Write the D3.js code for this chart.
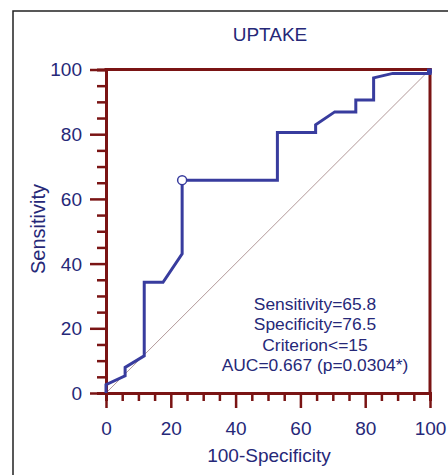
<!DOCTYPE html>
<html>
<head>
<meta charset="utf-8">
<script src="https://cdn.jsdelivr.net/npm/d3@7"></script>
<style>
  html, body { margin: 0; padding: 0; background: #fff; }
  svg { display: block; }
  text { font-family: "Liberation Sans", Arial, sans-serif; }
</style>
</head>
<body>
<svg id="chart" width="448" height="475"></svg>
<script>
// ---- data ----
const title = "UPTAKE";
const xLabel = "100-Specificity";
const yLabel = "Sensitivity";
const fpr = [0, 0, 5.9, 5.9, 11.8, 11.8, 17.6, 23.5, 23.5, 52.9, 52.9, 64.7, 64.7, 70.6, 77.1, 77.1, 82.6, 82.6, 88.5, 100, 100];
const tpr = [0, 2.6, 5.3, 7.9, 11.5, 34.2, 34.2, 43.0, 65.8, 65.8, 80.5, 80.5, 82.9, 86.9, 86.9, 90.6, 90.6, 97.4, 98.8, 98.8, 100];
const criterionPoint = [23.5, 65.8];
const majorTicks = [0, 20, 40, 60, 80, 100];
const minorTicks = [5, 10, 15, 25, 30, 35, 45, 50, 55, 65, 70, 75, 85, 90, 95];
const stats = ["Sensitivity=65.8", "Specificity=76.5", "Criterion<=15", "AUC=0.667 (p=0.0304*)"];

// ---- styles ----
const axisColor = "#7a1414";
const textColor = "#262878";
const curveColor = "#383c9e";
const diagColor = "#b39a9a";

const svg = d3.select("#chart");
svg.append("rect").attr("width", 448).attr("height", 475).attr("fill", "#fff");

// outer frame
svg.append("rect")
  .attr("x", 13).attr("y", 11).attr("width", 480).attr("height", 500)
  .attr("fill", "none").attr("stroke", "#222").attr("stroke-width", 1.5);

const x = d3.scaleLinear().domain([0, 100]).range([106, 430]);
const y = d3.scaleLinear().domain([0, 100]).range([393, 69.5]);

// diagonal reference
svg.append("line")
  .attr("x1", x(0)).attr("y1", y(0)).attr("x2", x(100)).attr("y2", y(100))
  .attr("stroke", diagColor).attr("stroke-width", 1);

// minor ticks
const yMinor = svg.append("g").attr("transform", `translate(${x(0)},0)`)
  .call(d3.axisLeft(y).tickValues(minorTicks).tickSize(9).tickFormat(""));
const xMinor = svg.append("g").attr("transform", `translate(0,${y(0)})`)
  .call(d3.axisBottom(x).tickValues(minorTicks).tickSize(8).tickFormat(""));

// major ticks with labels
const yAxis = svg.append("g").attr("transform", `translate(${x(0)},0)`)
  .call(d3.axisLeft(y).tickValues(majorTicks).tickSize(16).tickSizeOuter(0).tickPadding(8).tickFormat(d3.format("d")));
const xAxis = svg.append("g").attr("transform", `translate(0,${y(0)})`)
  .call(d3.axisBottom(x).tickValues(majorTicks).tickSize(15).tickSizeOuter(0).tickPadding(14).tickFormat(d3.format("d")));

[yMinor, xMinor, yAxis, xAxis].forEach(g => {
  g.select(".domain").attr("stroke", axisColor).attr("stroke-width", 3);
  g.selectAll(".tick line").attr("stroke", axisColor).attr("stroke-width", 2.5);
  g.selectAll(".tick text").attr("fill", textColor).attr("font-size", 19)
    .attr("font-family", "'Liberation Sans', Arial, sans-serif");
});
yAxis.selectAll(".tick text").attr("dy", "0.34em");
xAxis.selectAll(".tick text").attr("dy", "0.66em");

// top & right frame of plot
svg.append("line").attr("x1", x(0)).attr("y1", y(100)).attr("x2", x(100)).attr("y2", y(100))
  .attr("stroke", axisColor).attr("stroke-width", 3).attr("stroke-linecap", "square");
svg.append("line").attr("x1", x(100)).attr("y1", y(100)).attr("x2", x(100)).attr("y2", y(0))
  .attr("stroke", axisColor).attr("stroke-width", 3).attr("stroke-linecap", "square");

// ROC curve
const pts = fpr.map((v, i) => [v, tpr[i]]);
svg.append("path")
  .datum(pts)
  .attr("d", d3.line().x(d => x(d[0])).y(d => y(d[1])))
  .attr("fill", "none").attr("stroke", curveColor).attr("stroke-width", 3)
  .attr("stroke-linejoin", "miter");

// endpoint marker
svg.append("rect")
  .attr("x", x(100) - 3).attr("y", y(100) - 1).attr("width", 5).attr("height", 5)
  .attr("fill", curveColor);

// criterion marker
svg.append("circle")
  .attr("cx", x(criterionPoint[0])).attr("cy", y(criterionPoint[1])).attr("r", 4.5)
  .attr("fill", "#fff").attr("stroke", curveColor).attr("stroke-width", 1.5);

// title & axis titles
svg.append("text").attr("x", 270).attr("y", 41).attr("text-anchor", "middle")
  .attr("font-size", 19).attr("fill", textColor).text(title);
svg.append("text").attr("x", 269).attr("y", 462).attr("text-anchor", "middle")
  .attr("font-size", 19).attr("fill", textColor).text(xLabel);
svg.append("text").attr("transform", "translate(45,229) rotate(-90)").attr("text-anchor", "middle")
  .attr("font-size", 20).attr("fill", textColor).text(yLabel);

// stats annotation
svg.append("g").selectAll("text").data(stats).join("text")
  .attr("x", 315).attr("y", (d, i) => 309.5 + i * 20.5)
  .attr("text-anchor", "middle").attr("font-size", 17.4).attr("fill", textColor)
  .text(d => d);
</script>
</body>
</html>
